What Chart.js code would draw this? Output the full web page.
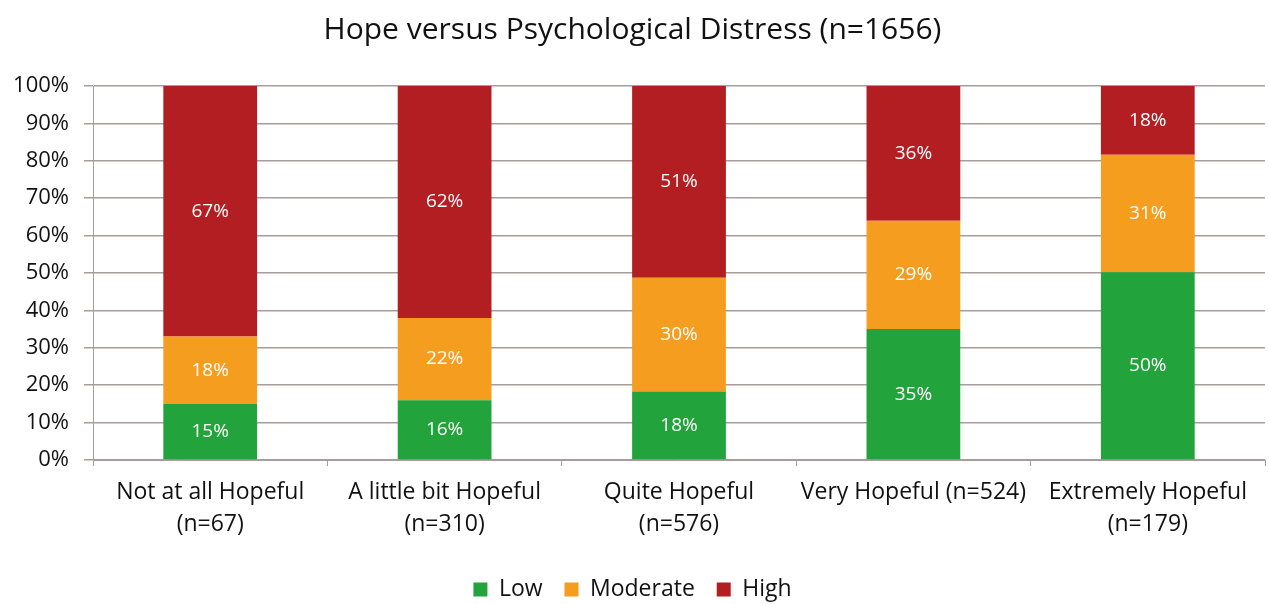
<!DOCTYPE html>
<html>
<head>
<meta charset="utf-8">
<script src="https://cdn.jsdelivr.net/npm/chart.js@4"></script>
<style>
  html, body { margin: 0; padding: 0; background: #fff; }
  #wrap { width: 1269px; height: 604px; }
</style>
</head>
<body>
<div id="wrap"><canvas id="chart" width="1269" height="604"></canvas></div>
<script>
// categories and values
const categories = [
  ["Not at all Hopeful", "(n=67)"],
  ["A little bit Hopeful", "(n=310)"],
  ["Quite Hopeful", "(n=576)"],
  "Very Hopeful (n=524)",
  ["Extremely Hopeful", "(n=179)"]
];
const lowValues = [15, 16, 18.3, 35, 50.2];
const moderateValues = [18, 22, 30.4, 29, 31.4];
const highValues = [67, 62, 51.3, 36, 18.4];
const yTicks = [0, 10, 20, 30, 40, 50, 60, 70, 80, 90, 100];

const FONT = "'Open Sans', 'Liberation Sans', sans-serif";

// white percentage labels in the middle of each segment
const barLabels = {
  id: 'barLabels',
  afterDatasetsDraw(chart) {
    const ctx = chart.ctx;
    ctx.save();
    ctx.fillStyle = '#ffffff';
    ctx.font = '19px ' + FONT;
    ctx.textAlign = 'center';
    ctx.textBaseline = 'middle';
    chart.data.datasets.forEach((ds, di) => {
      chart.getDatasetMeta(di).data.forEach((bar, i) => {
        const mid = (bar.y + bar.base) / 2;
        ctx.fillText(Math.round(ds.data[i]) + '%', bar.x, mid);
      });
    });
    ctx.restore();
  }
};

new Chart(document.getElementById('chart'), {
  type: 'bar',
  data: {
    labels: categories,
    datasets: [
      { label: 'Low', data: lowValues, backgroundColor: '#23a33b' },
      { label: 'Moderate', data: moderateValues, backgroundColor: '#f59d1e' },
      { label: 'High', data: highValues, backgroundColor: '#b21e22' }
    ]
  },
  options: {
    responsive: false,
    animation: false,
    layout: { padding: { left: 0, right: 4, top: 0, bottom: -7 } },
    datasets: { bar: { barPercentage: 0.4, categoryPercentage: 1 } },
    plugins: {
      title: {
        display: true,
        text: 'Hope versus Psychological Distress (n=1656)',
        color: '#111',
        font: { family: FONT, size: 30, weight: 'normal', lineHeight: 1.2 },
        padding: { top: 12, bottom: 38 }
      },
      legend: {
        position: 'bottom',
        labels: {
          color: '#111',
          font: { family: FONT, size: 23 },
          boxWidth: 14,
          boxHeight: 14,
          padding: 4,
          generateLabels(chart) {
            const items = Chart.defaults.plugins.legend.labels.generateLabels(chart);
            return items.map((it, i) => ({ ...it, text: i < items.length - 1 ? it.text + '   ' : it.text }));
          }
        }
      },
      tooltip: { enabled: false }
    },
    scales: {
      x: {
        stacked: true,
        offset: true,
        afterFit(scale) { scale.height = 114; },
        grid: { display: true, drawOnChartArea: false, drawTicks: true, tickLength: 6, color: '#a89c9c', offset: true },
        border: { color: '#a89c9c' },
        ticks: { color: '#111', font: { family: FONT, size: 23, lineHeight: 1.4 }, padding: 10, maxRotation: 0, autoSkip: false }
      },
      y: {
        stacked: true,
        min: 0,
        max: 100,
        afterBuildTicks(scale) { scale.ticks = yTicks.map(v => ({ value: v })); },
        afterFit(scale) { scale.width = 93; },
        grid: { color: '#a89c9c', tickLength: 9, lineWidth: 1.5 },
        border: { color: '#a89c9c' },
        ticks: {
          color: '#111',
          font: { family: FONT, size: 22 },
          padding: 15,
          callback: v => v + '%'
        }
      }
    }
  },
  plugins: [barLabels]
});
</script>
</body>
</html>
